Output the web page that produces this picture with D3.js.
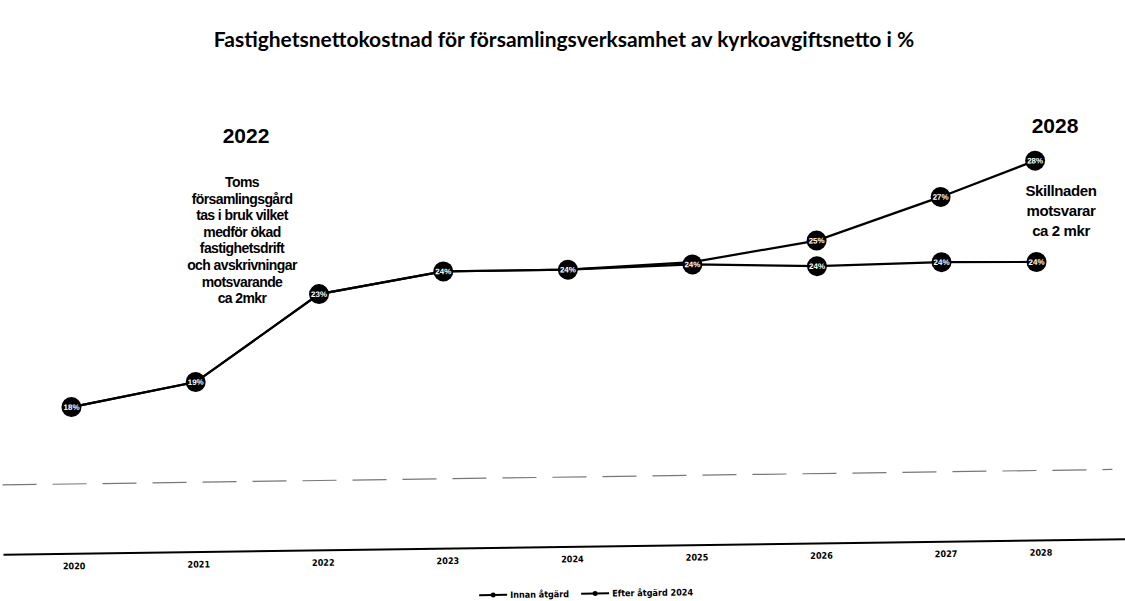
<!DOCTYPE html>
<html>
<head>
<meta charset="utf-8">
<script src="https://cdn.jsdelivr.net/npm/d3@7"></script>
<style>
  body { margin: 0; background: #fff; }
  svg { display: block; }
</style>
</head>
<body>
<div id="chart"></div>
<script>
// data
let years = [2020, 2021, 2022, 2023, 2024, 2025, 2026, 2027, 2028];
let utanAtgard = [18.3, 19.3, 23.0, 23.9, 23.9, 24.15, 25.0, 26.8, 28.3];
let medAtgard = [18.3, 19.3, 23.0, 23.9, 23.9, 24.05, 23.9, 24.0, 23.95];
let seriesNames = ["Innan åtgärd", "Efter åtgärd 2024"];
let gridValues = [15];

let noteLeft = ["Toms", "församlingsgård", "tas i bruk vilket", "medför ökad",
    "fastighetsdrift", "och avskrivningar", "motsvarande", "ca 2mkr"];
let noteRight = ["Skillnaden", "motsvarar", "ca 2 mkr"];

let width = 1125, height = 601;

let svg = d3.select("#chart").append("svg")
    .attr("width", width)
    .attr("height", height)
    .style("font-family", "'Liberation Sans', Arial, sans-serif");

// title
svg.append("text")
    .attr("x", 564)
    .attr("y", 47)
    .attr("text-anchor", "middle")
    .style("font-family", "Lato, sans-serif")
    .style("font-size", "21px")
    .style("font-weight", "bold")
    .text("Fastighetsnettokostnad för församlingsverksamhet av kyrkoavgiftsnetto i %");

// plot area, the scan is slightly tilted
let plot = svg.append("g")
    .attr("transform", "rotate(-0.8, 562, 300)");

// scales (the last year sits a bit closer in the scan)
let x = d3.scaleLinear()
    .domain([2020, 2027, 2028])
    .range([70, 942, 1037]);

let y = d3.scaleLinear()
    .domain([12, 30.5])
    .range([547, 116]);

// gridline
plot.selectAll(".grid").data(gridValues).enter()
    .append("line")
    .attr("class", "grid")
    .attr("x1", 0)
    .attr("x2", 1110)
    .attr("y1", d => y(d))
    .attr("y2", d => y(d))
    .attr("stroke", "#777")
    .attr("stroke-width", 1.2)
    .attr("stroke-dasharray", "34,16");

// x axis
let xAxis = d3.axisBottom(x)
    .tickValues(years)
    .tickSize(0)
    .tickPadding(9)
    .tickFormat(d => d);

let xGroup = plot.append("g")
    .attr("transform", "translate(0," + y(12) + ")")
    .call(xAxis);
xGroup.select(".domain").remove();
xGroup.selectAll("text")
    .style("font-size", "9px")
    .style("font-weight", "bold")
    .style("font-family", "'DejaVu Sans Condensed', 'DejaVu Sans', sans-serif");

plot.append("line")
    .attr("x1", 0)
    .attr("x2", width + 20)
    .attr("y1", y(12))
    .attr("y2", y(12))
    .attr("stroke", "#000")
    .attr("stroke-width", 2);

// lines
let line = d3.line()
    .x((d, i) => x(years[i]))
    .y(d => y(d));

[utanAtgard, medAtgard].forEach(function (series) {
    plot.append("path")
        .datum(series)
        .attr("fill", "none")
        .attr("stroke", "#000")
        .attr("stroke-width", 2.2)
        .attr("d", line);
});

// markers with value labels
function drawPoints(series, from) {
    let pts = series.map((v, i) => ({year: years[i], value: v})).filter(d => d.year >= from);
    let g = plot.append("g").selectAll("g").data(pts).enter()
        .append("g")
        .attr("transform", d => "translate(" + x(d.year) + "," + y(d.value) + ")");
    g.append("circle")
        .attr("r", 10)
        .attr("fill", "#000");
    g.append("text")
        .attr("text-anchor", "middle")
        .attr("dy", "0.35em")
        .attr("fill", "#fff")
        .style("font-size", "8px")
        .style("font-weight", "bold")
        .text(d => Math.round(d.value) + "%");
}
drawPoints(medAtgard, 2020);
drawPoints(utanAtgard, 2026);

// legend
let legend = plot.append("g")
    .attr("transform", "translate(475,594)");
let legX = [0, 102];
seriesNames.forEach(function (name, i) {
    let lg = legend.append("g").attr("transform", "translate(" + legX[i] + ",0)");
    lg.append("line")
        .attr("x1", 0).attr("x2", 28)
        .attr("stroke", "#000").attr("stroke-width", 2);
    lg.append("circle")
        .attr("cx", 14).attr("r", 2.5).attr("fill", "#000");
    lg.append("text")
        .attr("x", 31)
        .attr("dy", "0.35em")
        .style("font-size", "9px")
        .style("font-weight", "bold")
        .style("font-family", "'DejaVu Sans Condensed', sans-serif")
        .text(name);
});

// annotations
svg.append("text")
    .attr("x", 246).attr("y", 143)
    .attr("text-anchor", "middle")
    .style("font-size", "21px").style("font-weight", "bold")
    .text("2022");

svg.append("g").selectAll("text").data(noteLeft).enter()
    .append("text")
    .attr("x", 242)
    .attr("y", (d, i) => 187 + i * 16.6)
    .attr("text-anchor", "middle")
    .style("font-size", "14px")
    .style("font-weight", "bold")
    .style("letter-spacing", "-0.6px")
    .text(d => d);

svg.append("text")
    .attr("x", 1055).attr("y", 133)
    .attr("text-anchor", "middle")
    .style("font-size", "21px").style("font-weight", "bold")
    .text("2028");

svg.append("g").selectAll("text").data(noteRight).enter()
    .append("text")
    .attr("x", 1061)
    .attr("y", (d, i) => 196 + i * 20)
    .attr("text-anchor", "middle")
    .style("font-size", "15px")
    .style("font-weight", "bold")
    .style("letter-spacing", "-0.4px")
    .text(d => d);
</script>
</body>
</html>
